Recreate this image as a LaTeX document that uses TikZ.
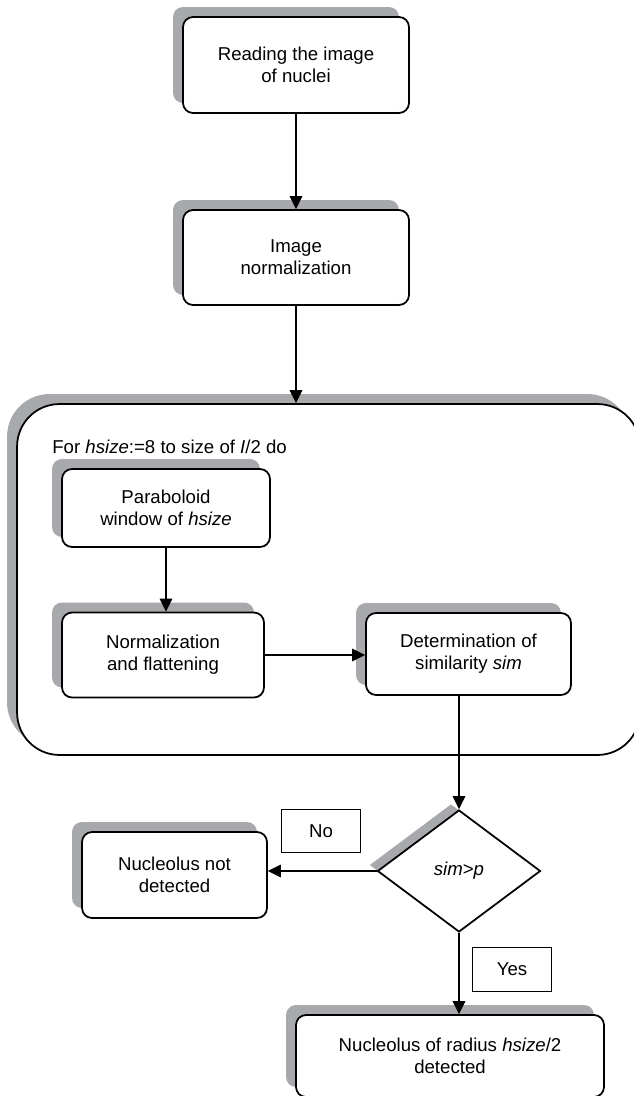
\documentclass[tikz,border=0pt]{standalone}
\usepackage{fontspec}
\setmainfont{Liberation Sans}
\usetikzlibrary{shapes.geometric, arrows.meta, shadows}
\definecolor{shadowgray}{RGB}{167,169,172}

\begin{document}
\begin{tikzpicture}[
        x=0.02cm, y=-0.02cm,
        every node/.style={font=\fontsize{10.6pt}{12.5pt}\selectfont},
        procbox/.style={rectangle, draw, fill=white, line width=1pt, rounded corners=0.2cm, align=center, inner sep=0pt,
            general shadow={draw=none, fill=shadowgray, shadow xshift=-0.2cm, shadow yshift=0.2cm}},
        loopbox/.style={rectangle, draw, fill=white, line width=1pt, rounded corners=0.85cm, inner sep=0pt,
            general shadow={draw=none, fill=shadowgray, shadow xshift=-0.2cm, shadow yshift=0.2cm}},
        decision/.style={diamond, draw, fill=white, line width=1pt, inner sep=0pt, aspect=1.34,
            minimum width=3.26cm, minimum height=2.44cm,
            general shadow={draw=none, fill=shadowgray, shadow xshift=-0.16cm, shadow yshift=0.12cm}},
        answer/.style={rectangle, draw, line width=0.8pt, inner sep=0pt, minimum width=1.58cm, minimum height=0.87cm},
        arrow/.style={-{Triangle[length=0.26cm, width=0.25cm]}, line width=0.9pt}
    ]
        \useasboundingbox (0,0) rectangle (634,1096);
        \clip (0,0) rectangle (634,1096);

        \node (read) [procbox, minimum width=4.52cm, minimum height=1.92cm] at (296,65) {Reading the image\\of nuclei};
        \node (norm) [procbox, minimum width=4.52cm, minimum height=1.9cm] at (296,257.5) {Image\\normalization};
        \node (loop) [loopbox, minimum width=12.46cm, minimum height=7.02cm] at (328.5,579.5) {};
        \node (fortext) [anchor=west, inner sep=0pt] at (52,447) {For \textit{hsize}:=8 to size of \textit{I}/2 do};
        \node (parab) [procbox, minimum width=4.16cm, minimum height=1.56cm] at (166,508) {Paraboloid\\window of \textit{hsize}};
        \node (flat) [procbox, minimum width=4.04cm, minimum height=1.7cm] at (163,655) {Normalization\\and flattening};
        \node (simil) [procbox, minimum width=4.1cm, minimum height=1.64cm] at (468.5,654) {Determination of\\similarity \textit{sim}};
        \node (test) [decision] at (459,871) {\textit{sim}>\textit{p}};
        \node (notfound) [procbox, minimum width=3.7cm, minimum height=1.72cm] at (174.5,875) {Nucleolus not\\detected};
        \node (nolabel) [answer] at (321,831) {No};
        \node (yeslabel) [answer] at (512,969.5) {Yes};
        \node (found) [procbox, minimum width=6.16cm, minimum height=1.64cm] at (450,1056) {Nucleolus of radius \textit{hsize}/2\\detected};

        \draw [arrow] (read.south) -- (norm.north);
        \draw [arrow] (norm.south) -- (norm.south |- loop.north);
        \draw [arrow] (parab.south) -- (parab.south |- flat.north);
        \draw [arrow] (flat.east) -- (flat.east -| simil.west);
        \draw [arrow] (simil.south -| test.north) -- (test.north);
        \draw [arrow] (test.west) -- (test.west -| notfound.east);
        \draw [arrow] (test.south) -- (test.south |- found.north);
    \end{tikzpicture}
\end{document}
